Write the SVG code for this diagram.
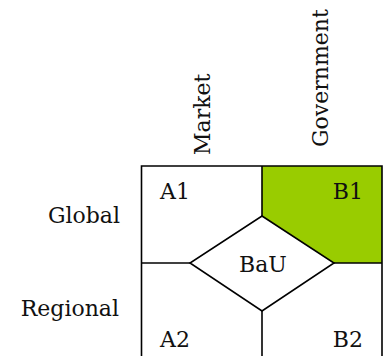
<svg xmlns="http://www.w3.org/2000/svg" width="391" height="356" viewBox="0 0 391 356">
<style>
text{font-family:"DejaVu Serif","Liberation Serif",serif;font-size:22px;fill:#111}
.ln{stroke:#000;stroke-width:1.6;fill:none;stroke-linejoin:miter}
</style>
<rect width="391" height="356" fill="#fff"/>
<g id="B1">
<polygon points="262,166 382,166 382,263 334,263 262,216" fill="#99cc00"/>
<text x="363" y="199" text-anchor="end">B1</text>
</g>
<g id="A1"><text x="160" y="199">A1</text></g>
<g id="A2"><text x="160" y="347">A2</text></g>
<g id="B2"><text x="363" y="347" text-anchor="end">B2</text></g>
<g id="BaU">
<polygon class="ln" points="262,216 334,263 262,311 190,263"/>
<text x="263" y="272" text-anchor="middle">BaU</text>
</g>
<g id="labels">
<text x="120" y="223" text-anchor="end">Global</text>
<text x="119" y="316" text-anchor="end">Regional</text>
<text transform="translate(210,155) rotate(-90)">Market</text>
<text transform="translate(328,147) rotate(-90)">Government</text>
</g>
<g id="connectors">
<polyline class="ln" points="141.5,362 141.5,166 382,166 382,362"/>
<line class="ln" x1="262" y1="166" x2="262" y2="216"/>
<line class="ln" x1="262" y1="311" x2="262" y2="360"/>
<line class="ln" x1="141.5" y1="263" x2="190" y2="263"/>
<line class="ln" x1="334" y1="263" x2="382" y2="263"/>
</g>
</svg>
